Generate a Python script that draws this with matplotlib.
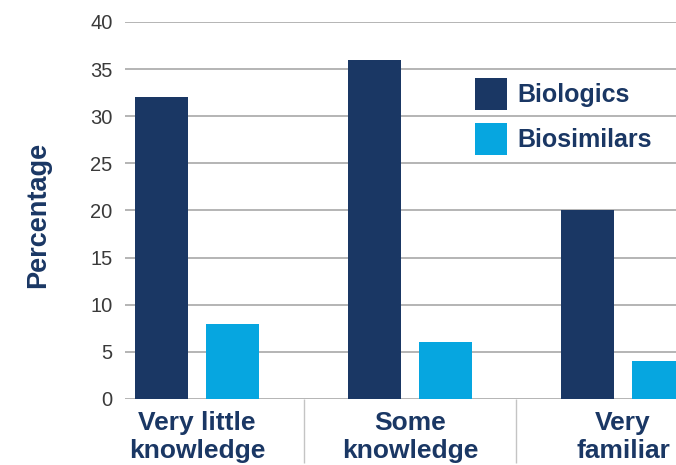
import matplotlib.pyplot as plt
import numpy as np

categories = ["Very little\nknowledge", "Some\nknowledge", "Very\nfamiliar"]
biologics = [32, 36, 20]
biosimilars = [8, 6, 4]
series_names = ["Biologics", "Biosimilars"]
yticks = [0, 5, 10, 15, 20, 25, 30, 35, 40]

NAVY = "#1a3764"
CYAN = "#06a6e0"
GRID = "#a8a8a8"

plt.rcParams["font.family"] = ["Liberation Sans", "DejaVu Sans"]

fig = plt.figure(figsize=(6.76, 4.65), dpi=100)
ax = fig.add_axes([0.185, 0.142, 0.815, 0.8108])

x = np.arange(len(categories))
w = 0.249
ax.bar(x - 0.167, biologics, w, color=NAVY, label=series_names[0], zorder=3)
ax.bar(x + 0.167, biosimilars, w, color=CYAN, label=series_names[1], zorder=3)

ax.set_xlim(-0.338, 2.249)
ax.set_ylim(0, 40)
ax.set_yticks(yticks)
ax.yaxis.grid(True, color=GRID, linewidth=1.2, zorder=0)
ax.set_axisbelow(True)
for s in ax.spines.values():
    s.set_visible(False)

ax.tick_params(axis="y", length=0, pad=9, labelsize=14.5, labelcolor="#3a3a3a")
ax.set_xticks(x)
ax.set_xticklabels(categories, fontsize=19, fontweight="bold", color=NAVY,
                   linespacing=1.2)
ax.tick_params(axis="x", which="major", length=0, pad=9)
ax.set_xticks([0.5, 1.5], minor=True)
ax.tick_params(axis="x", which="minor", length=46, color="#c4c4c4", width=1)

ax.set_ylabel("Percentage", fontsize=19.5, fontweight="bold", color=NAVY, labelpad=28)
ax.yaxis.label.set_y(0.487)

ax.legend(loc="upper left", bbox_to_anchor=(475 / 676, 1 - 78 / 465),
          bbox_transform=fig.transFigure, frameon=False, borderpad=0,
          borderaxespad=0, handlelength=1.28, handleheight=1.592,
          handletextpad=0.4, labelspacing=0.52,
          prop={"size": 18, "weight": "bold"}, labelcolor=NAVY)

fig.savefig("out.png", dpi=100)
